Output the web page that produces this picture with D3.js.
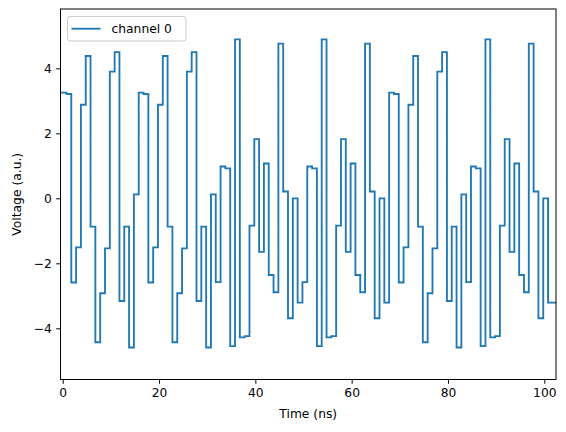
<!DOCTYPE html>
<html>
<head>
<meta charset="utf-8">
<script src="https://cdn.jsdelivr.net/npm/d3@7"></script>
<style>
  html, body { margin: 0; padding: 0; background: #fff; }
  svg { display: block; font-family: "DejaVu Sans", sans-serif; }
</style>
</head>
<body>
<svg id="chart" width="566" height="432"></svg>
<script>
// ---- data ----
const seriesName = "channel 0";
const voltage = [
  3.25, 3.21, -2.59, -1.51, 2.88, 4.38, -0.87, -4.43, -2.92, -1.54, 3.90, 4.50, -3.16, -0.87, -4.59, 0.12,
  3.25, 3.21, -2.59, -1.51, 2.88, 4.38, -0.87, -4.43, -2.92, -1.54, 3.90, 4.50, -3.16, -0.87, -4.59, 0.12,
  -2.58, 0.98, 0.92, -4.55, 4.89, -4.28, -4.24, -0.84, 1.82, -1.65, 1.07, -2.36, -2.89, 4.76, 0.21, -3.69, 0.00, -3.21,
  -2.58, 0.98, 0.92, -4.55, 4.89, -4.28, -4.24, -0.84, 1.82, -1.65, 1.07, -2.36, -2.89, 4.76, 0.21, -3.69, 0.00, -3.21,
  3.25, 3.21, -2.59, -1.51, 2.88, 4.38, -0.87, -4.43, -2.92, -1.54, 3.90, 4.50, -3.16, -0.87, -4.59, 0.12,
  -2.58, 0.98, 0.92, -4.55, 4.89, -4.28, -4.24, -0.84, 1.82, -1.65, 1.07, -2.36, -2.89, 4.76, 0.21, -3.69, 0.00, -3.21
];
const sampleStart = -0.22;   // ns, time of first sample edge
const samplePeriod = 1.0;    // ns
const xTicks = [0, 20, 40, 60, 80, 100];
const xTickLabels = ["0", "20", "40", "60", "80", "100"];
const yTicks = [-4, -2, 0, 2, 4];
const yTickLabels = ["\u22124", "\u22122", "0", "2", "4"];
const xDomain = [-0.46, 102.43];
const yDomain = [-5.575, 5.825];
const xLabel = "Time (ns)";
const yLabel = "Voltage (a.u.)";

// ---- layout ----
const plot = { left: 60.5, right: 556, top: 9, bottom: 379.5 };
const fontSize = 12.3;
const color = "#1f77b4";

const svg = d3.select("#chart");
svg.append("rect").attr("width", 566).attr("height", 432).attr("fill", "#fff");

const x = d3.scaleLinear().domain(xDomain).range([plot.left, plot.right]);
const y = d3.scaleLinear().domain(yDomain).range([plot.bottom, plot.top]);

svg.append("defs").append("clipPath").attr("id", "clip")
  .append("rect")
  .attr("x", plot.left).attr("y", plot.top)
  .attr("width", plot.right - plot.left).attr("height", plot.bottom - plot.top);

// step data
const pts = voltage.map((v, i) => ({ t: sampleStart + i * samplePeriod, v }));
pts.push({ t: xDomain[1], v: voltage[voltage.length - 1] });

const line = d3.line()
  .x(d => x(d.t))
  .y(d => y(d.v))
  .curve(d3.curveStepAfter);

svg.append("path")
  .datum(pts)
  .attr("clip-path", "url(#clip)")
  .attr("fill", "none")
  .attr("stroke", color)
  .attr("stroke-width", 1.85)
  .attr("stroke-linejoin", "miter")
  .attr("stroke-linecap", "square")
  .attr("d", line);

// axes
const xAxis = d3.axisBottom(x)
  .tickValues(xTicks)
  .tickFormat((d, i) => xTickLabels[i])
  .tickSize(4.3).tickSizeOuter(0).tickPadding(4.6);
const gx = svg.append("g").attr("transform", `translate(0,${plot.bottom})`).call(xAxis);
gx.select(".domain").remove();
gx.selectAll(".tick line").attr("stroke", "#000").attr("stroke-width", 1);
gx.selectAll(".tick text").attr("fill", "#000").style("font-size", fontSize + "px")
  .style("font-family", "DejaVu Sans, sans-serif");

const yAxis = d3.axisLeft(y)
  .tickValues(yTicks)
  .tickFormat((d, i) => yTickLabels[i])
  .tickSize(4.3).tickSizeOuter(0).tickPadding(4.3);
const gy = svg.append("g").attr("transform", `translate(${plot.left},0)`).call(yAxis);
gy.select(".domain").remove();
gy.selectAll(".tick line").attr("stroke", "#000").attr("stroke-width", 1);
gy.selectAll(".tick text").attr("fill", "#000").style("font-size", fontSize + "px")
  .style("font-family", "DejaVu Sans, sans-serif");

// frame
svg.append("rect")
  .attr("x", plot.left).attr("y", plot.top)
  .attr("width", plot.right - plot.left).attr("height", plot.bottom - plot.top)
  .attr("fill", "none").attr("stroke", "#000").attr("stroke-width", 1);

// axis labels
svg.append("text")
  .attr("x", (plot.left + plot.right) / 2).attr("y", 418)
  .attr("text-anchor", "middle").style("font-size", fontSize + "px")
  .text(xLabel);
svg.append("text")
  .attr("transform", `translate(21,${(plot.top + plot.bottom) / 2}) rotate(-90)`)
  .attr("text-anchor", "middle").style("font-size", fontSize + "px")
  .text(yLabel);

// legend
const lg = svg.append("g");
lg.append("rect")
  .attr("x", 67.5).attr("y", 16.5).attr("width", 118.5).attr("height", 24.5)
  .attr("rx", 2.5).attr("fill", "#fff").attr("fill-opacity", 0.8)
  .attr("stroke", "#cccccc").attr("stroke-width", 1);
lg.append("line")
  .attr("x1", 71.5).attr("x2", 100.5).attr("y1", 28.7).attr("y2", 28.7)
  .attr("stroke", color).attr("stroke-width", 1.85);
lg.append("text")
  .attr("x", 111.5).attr("y", 33).style("font-size", fontSize + "px")
  .text(seriesName);
</script>
</body>
</html>
